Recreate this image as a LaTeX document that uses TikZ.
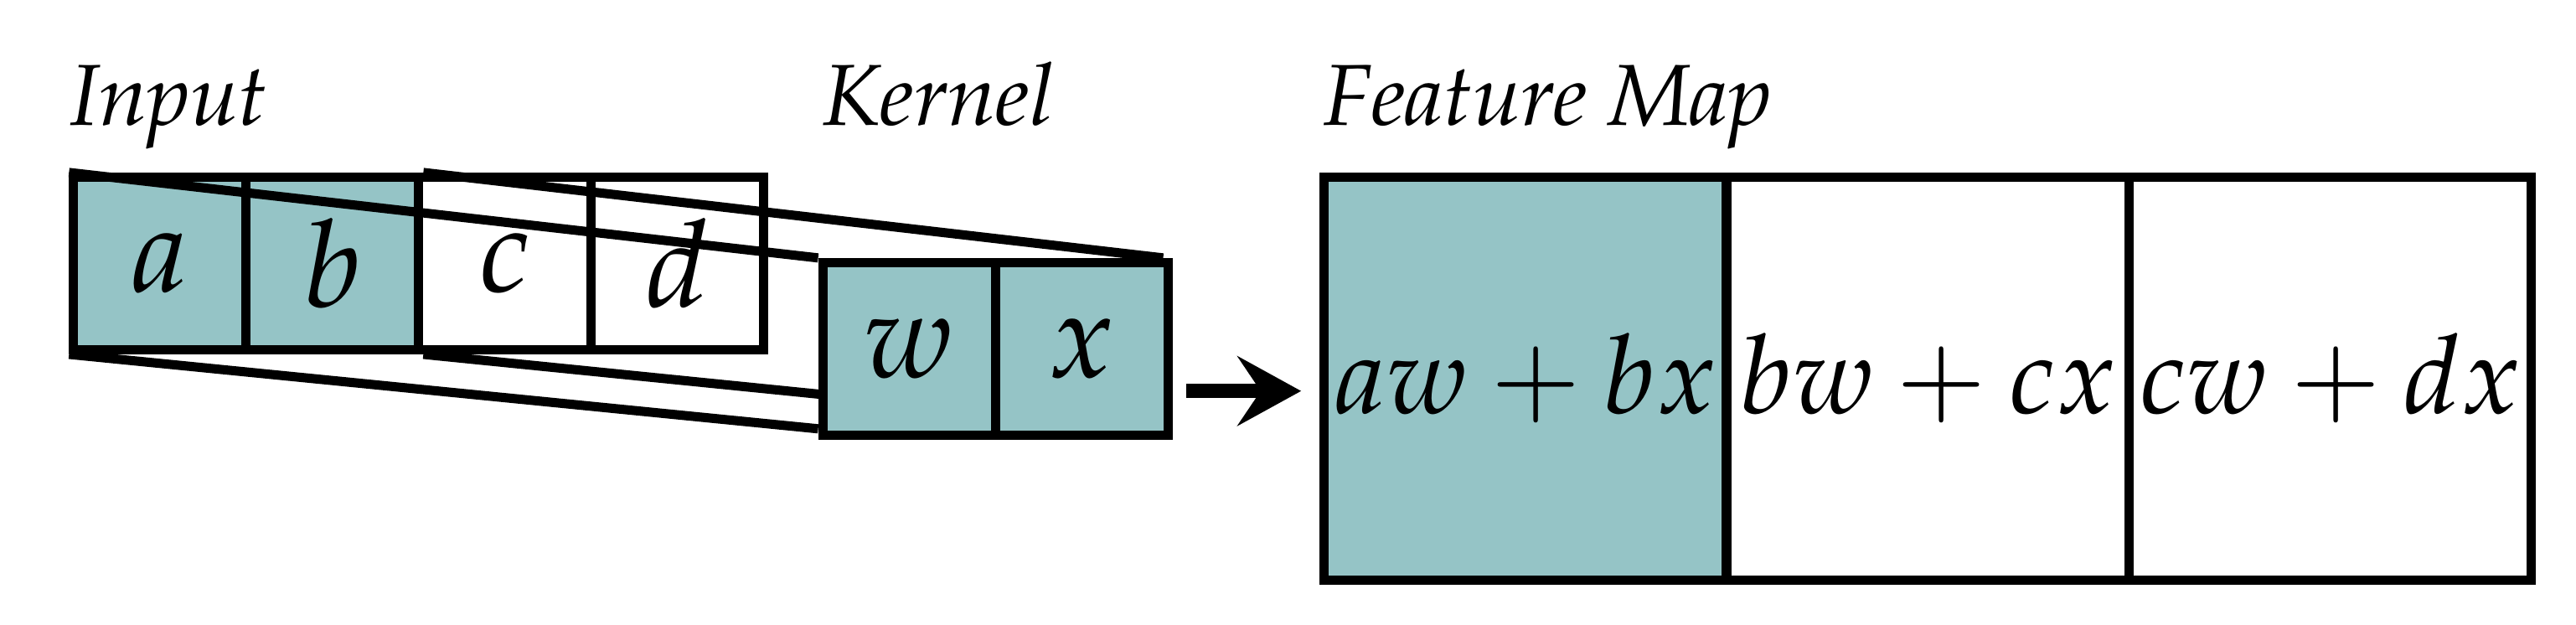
\documentclass[tikz,border=0pt]{standalone}
\usepackage[T1]{fontenc}
\usepackage{mathpazo}
\usetikzlibrary{arrows.meta}
\definecolor{teal}{HTML}{95C4C6}
\tikzset{
  cell/.style={draw, line width=1.6pt, rectangle, anchor=north west, inner sep=0pt},
  small/.style={cell, minimum width=1.05cm, minimum height=1.05cm, font=\fontsize{21}{24}\selectfont},
  big/.style={cell, minimum width=2.45cm, minimum height=2.45cm, font=\fontsize{19}{22}\selectfont},
  title/.style={anchor=base west, inner sep=0pt, font=\fontsize{15}{17}\selectfont\itshape},
  proj/.style={line width=1.6pt}
}
\begin{document}
\begin{tikzpicture}[x=0.01cm, y=-0.01cm]
		\useasboundingbox (0,0) rectangle (1568,380);
		
		% Titles
		\node[title] (tin) at (42,76) {Input};
		\node[title] (tker) at (500,76) {Kernel};
		\node[title] (tmap) at (805,76) {Feature Map};
		
		% Input cells
		\node[small, fill=teal] (a) at (42,105) {$a$};
		\node[small, fill=teal] (b) at (147,105) {$b$};
		\node[small] (c) at (252,105) {$c$};
		\node[small] (d) at (357,105) {$d$};
		
		% Projection lines
		\draw[proj] (a.north west) -- (498,157) coordinate (k1);
		\draw[proj] (b.north east) -- (708,157) coordinate (k2);
		\draw[proj] (a.south west) -- (498,261) coordinate (k3);
		\draw[proj] (b.south east) -- (708,261) coordinate (k4);
		
		% Kernel cells
		\node[small, fill=teal] (w) at (498,157) {$w$};
		\node[small, fill=teal] (x) at (603,157) {$x$};
		
		% Arrow
		\coordinate (s) at (722,238);
		\coordinate (t) at (792,238);
		\draw[line width=2.4pt, -{Stealth[length=11pt, width=12pt, inset=4pt]}] (s) -- (t);
		
		% Feature map cells
		\node[big, fill=teal] (m1) at (803,105) {$aw+bx$};
		\node[big] (m2) at (1048,105) {$bw+cx$};
		\node[big] (m3) at (1293,105) {$cw+dx$};
		
\end{tikzpicture}
\end{document}
